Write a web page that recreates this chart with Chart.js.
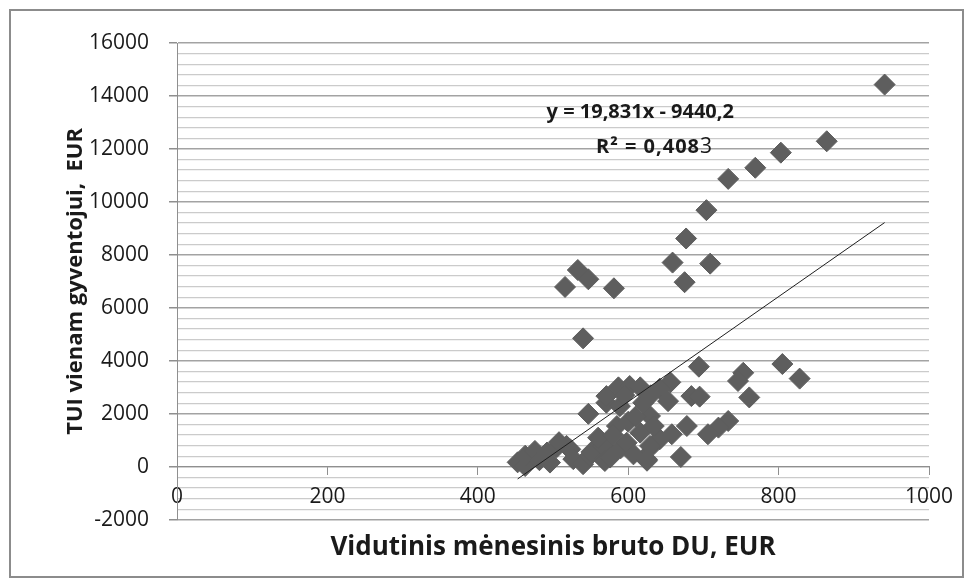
<!DOCTYPE html>
<html>
<head>
<meta charset="utf-8">
<script src="https://cdn.jsdelivr.net/npm/chart.js@4.4.0/dist/chart.umd.min.js"></script>
<style>
  body { margin: 0; background: #fff; }
</style>
</head>
<body>
<canvas id="chart" width="972" height="585"></canvas>
<script>
// average gross monthly salary (EUR) per municipality
const salary = [
  941, 864, 803, 769, 733, 704, 677, 659, 709, 675, 533, 547, 516, 581, 540,
  694, 805, 828, 753, 746, 761, 656, 684, 695, 653, 733, 720, 706, 678, 658,
  642, 634, 622, 670, 629,
  453, 463, 463, 476, 482, 492, 496, 505, 508, 518, 523, 527, 540, 549, 551,
  567, 567, 569, 576, 590, 598, 607, 625, 629, 616, 634, 585, 560, 580, 600,
  610, 547, 571, 571, 589, 620, 642, 587, 602, 616, 630, 595, 625
];

// FDI per inhabitant (EUR)
const fdi = [
  14430, 12290, 11860, 11290, 10870, 9690, 8620, 7710, 7670, 6970, 7430, 7080, 6790, 6740, 4850,
  3780, 3880, 3330, 3550, 3240, 2620, 3190, 2670, 2650, 2480, 1730, 1480, 1230, 1540, 1230,
  1040, 850, 350, 370, 1920,
  170, 30, 420, 600, 250, 540, 160, 740, 930, 790, 660, 290, 100, 420, 560,
  290, 790, 220, 350, 700, 910, 470, 230, 790, 1290, 1540, 1540, 1100, 1200, 1700,
  1900, 2000, 2420, 2670, 2290, 2420, 2950, 3000, 3050, 3000, 2700, 2700, 280
];

// linear trendline end points
const trendX = [453, 941];
const trendY = [-457, 9221];

const equationText = "y = 19,831x - 9440,2";
const r2Text = "R² = 0,408";
const r2Tail = "3";
const xTitle = "Vidutinis mėnesinis bruto DU, EUR";
const yTitle = "TUI vienam gyventojui,  EUR";

const FONT = "'Open Sans', 'Liberation Sans', sans-serif";
const TEXT = "#1a1a1a";
const MAJOR = "#a3a3a3";
const MINOR = "#cbcbcb";
const MARKER = "#5e5e5e";

const framePlugin = {
  id: "frame",
  beforeDraw(chart) {
    const ctx = chart.ctx;
    ctx.save();
    ctx.fillStyle = "#fff";
    ctx.fillRect(0, 0, chart.width, chart.height);
    ctx.strokeStyle = "#8c8c8c";
    ctx.lineWidth = 2;
    ctx.strokeRect(10, 10, 953, 567);
    ctx.restore();
  },
};

const equationPlugin = {
  id: "equation",
  afterDatasetsDraw(chart) {
    const ctx = chart.ctx;
    const x = chart.scales.x;
    const y = chart.scales.y;
    ctx.save();
    ctx.fillStyle = TEXT;
    ctx.textBaseline = "middle";
    ctx.textAlign = "center";
    ctx.font = "bold 20px " + FONT;
    ctx.fillText(equationText, x.getPixelForValue(616), y.getPixelForValue(13380));

    // R² line: bold part, then the last digit in regular weight
    ctx.letterSpacing = "1px";
    const w1 = ctx.measureText(r2Text).width;
    ctx.font = "21px " + FONT;
    const w2 = ctx.measureText(r2Tail).width;
    const start = x.getPixelForValue(635) - (w1 + w2) / 2;
    const ry = y.getPixelForValue(12060);
    ctx.textAlign = "left";
    ctx.font = "bold 20px " + FONT;
    ctx.fillText(r2Text, start, ry);
    ctx.font = "21px " + FONT;
    ctx.fillText(r2Tail, start + w1, ry);
    ctx.restore();
  },
};

function isMajor(value) {
  return Math.abs(value % 2000) < 1e-6;
}

function generateOptions() {
  return {
    responsive: false,
    animation: false,
    layout: {
      padding: { left: 0, top: 43, right: 43, bottom: 0 },
    },
    plugins: {
      legend: { display: false },
      tooltip: { enabled: false },
      title: {
        display: true,
        position: "bottom",
        fullSize: false,
        text: xTitle,
        color: TEXT,
        font: { family: FONT, size: 26, weight: "bold" },
        padding: { top: 12, bottom: 22 },
      },
    },
    scales: {
      x: {
        type: "linear",
        position: { y: 0 },
        min: 0,
        max: 1000,
        ticks: {
          stepSize: 200,
          padding: 10,
          color: TEXT,
          font: { family: FONT, size: 21 },
          callback: (value) => String(value),
        },
        grid: {
          drawOnChartArea: false,
          tickLength: 8,
          color: "#8f8f8f",
        },
        border: { color: "#8f8f8f", width: 1 },
      },
      y: {
        type: "linear",
        min: -2000,
        max: 16000,
        ticks: {
          stepSize: 400,
          autoSkip: false,
          padding: 20,
          color: TEXT,
          font: { family: FONT, size: 21 },
          callback: (value) => (isMajor(value) ? String(value) : ""),
        },
        grid: {
          color: (ctx) => (ctx.tick && isMajor(ctx.tick.value) ? MAJOR : MINOR),
          lineWidth: (ctx) => (ctx.tick && isMajor(ctx.tick.value) ? 1.5 : 1.3),
          tickColor: (ctx) => (ctx.tick && isMajor(ctx.tick.value) ? "#8f8f8f" : "rgba(0,0,0,0)"),
          tickLength: 8,
        },
        border: { color: "#8f8f8f", width: 1 },
        title: {
          display: true,
          text: yTitle,
          color: TEXT,
          font: { family: FONT, size: 22, weight: "bold" },
          padding: { top: 63, bottom: 0 },
        },
        afterFit(scale) {
          scale.width = 177;
        },
      },
    },
  };
}

function constructPoints(xs, ys) {
  return xs.map((x, i) => ({ x: x, y: ys[i] }));
}

const config = {
  type: "scatter",
  data: {
    datasets: [
      {
        label: "TUI",
        data: constructPoints(salary, fdi),
        pointStyle: "rectRot",
        pointRadius: 10.5,
        backgroundColor: MARKER,
        borderColor: MARKER,
        borderWidth: 1,
        order: 2,
      },
      {
        label: "Trend",
        type: "line",
        data: constructPoints(trendX, trendY),
        borderColor: "#1f1f1f",
        borderWidth: 1,
        pointRadius: 0,
        fill: false,
        order: 1,
      },
    ],
  },
  options: generateOptions(),
  plugins: [framePlugin, equationPlugin],
};

new Chart(document.getElementById("chart"), config);
</script>
</body>
</html>
